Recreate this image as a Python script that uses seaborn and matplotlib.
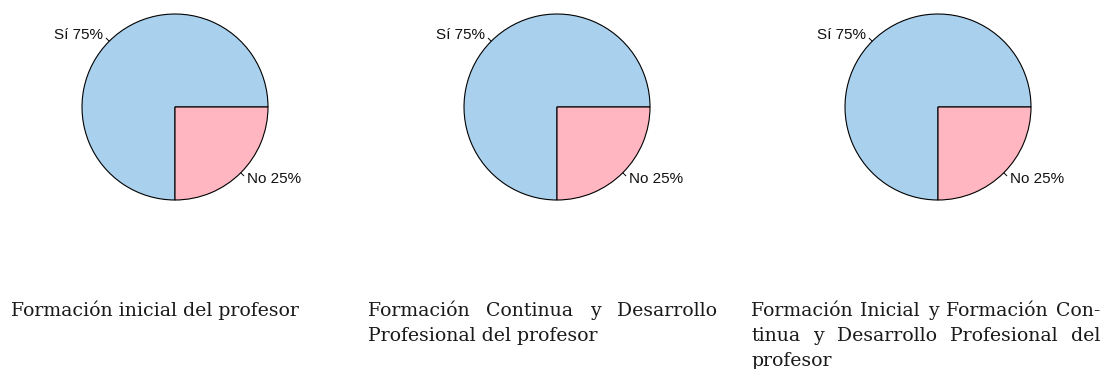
import numpy as np
import matplotlib
matplotlib.use("Agg")
import matplotlib.pyplot as plt
import seaborn as sns

# Survey answers per teacher-training topic
categories = ["Sí", "No"]
shares = [
    [75, 25],
    [75, 25],
    [75, 25],
]
captions = [
    ["Formación inicial del profesor"],
    ["Formación Continua y Desarrollo", "Profesional del profesor"],
    ["Formación Inicial y Formación Con-",
     "tinua y Desarrollo Profesional del",
     "profesor"],
]
slice_colors = ["#A9D1EE", "#FFB6C1"]

sns.set_style("white")
plt.rcParams["font.family"] = ["Liberation Sans", "DejaVu Sans"]

W, H = 1104, 369
fig = plt.figure(figsize=(W / 100, H / 100), dpi=100)

# pie layout in pixels
centers_x = [175, 557, 938]
center_y = 107
R = 93
half = 110

for cx, vals in zip(centers_x, shares):
    ax = fig.add_axes([(cx - half) / W, (H - center_y - half) / H,
                       2 * half / W, 2 * half / H])
    labels = [f"{c} {v}%" for c, v in zip(categories, vals)]
    wedges, texts = ax.pie(
        vals, labels=labels, colors=slice_colors, startangle=0,
        counterclock=True, radius=1, labeldistance=1.1,
        wedgeprops=dict(edgecolor="black", linewidth=0.8),
        textprops=dict(fontsize=11, color="#111111"),
    )
    lim = half / R
    ax.set_xlim(-lim, lim)
    ax.set_ylim(-lim, lim)
    ax.set_aspect("equal")
    ax.axis("off")
    # short leader ticks at each slice's mid-angle
    for w in wedges:
        a = np.deg2rad((w.theta1 + w.theta2) / 2)
        ax.plot([np.cos(a), 1.05 * np.cos(a)], [np.sin(a), 1.05 * np.sin(a)],
                color="black", lw=0.7, solid_capstyle="butt")

# justified serif captions under each pie
cap_font = "DejaVu Serif"
cap_color = "#1a1a1a"
col_left = [11, 368, 751]
col_width = 349
baseline0 = 316
line_gap = 25

renderer = fig.canvas.get_renderer()


def text_width(s, size):
    t = fig.text(0, 0, s, fontsize=size, family=cap_font)
    w = t.get_window_extent(renderer).width
    t.remove()
    return w


# size so the single-line caption spans ~299 px, but every justified
# line must still fit the column with ordinary word spacing
cap_size = 10 * 299 / text_width(captions[0][0], 10)
for lines in captions:
    for line in lines[:-1]:
        cap_size = min(cap_size, 10 * (col_width - 4) / text_width(line, 10))

for left, lines in zip(col_left, captions):
    for i, line in enumerate(lines):
        y = (H - (baseline0 + i * line_gap)) / H
        last = i == len(lines) - 1
        words = line.split(" ")
        if last or len(words) == 1:
            fig.text(left / W, y, line, fontsize=cap_size, family=cap_font,
                     color=cap_color, ha="left", va="baseline")
            continue
        # natural start of each word, then spread the leftover space evenly
        extra = (col_width - text_width(line, cap_size)) / (len(words) - 1)
        for k, wd in enumerate(words):
            prefix = " ".join(words[:k + 1])
            start = text_width(prefix, cap_size) - text_width(wd, cap_size)
            fig.text((left + start + extra * k) / W, y, wd, fontsize=cap_size,
                     family=cap_font, color=cap_color, ha="left",
                     va="baseline")

fig.savefig("out.png", dpi=100)
